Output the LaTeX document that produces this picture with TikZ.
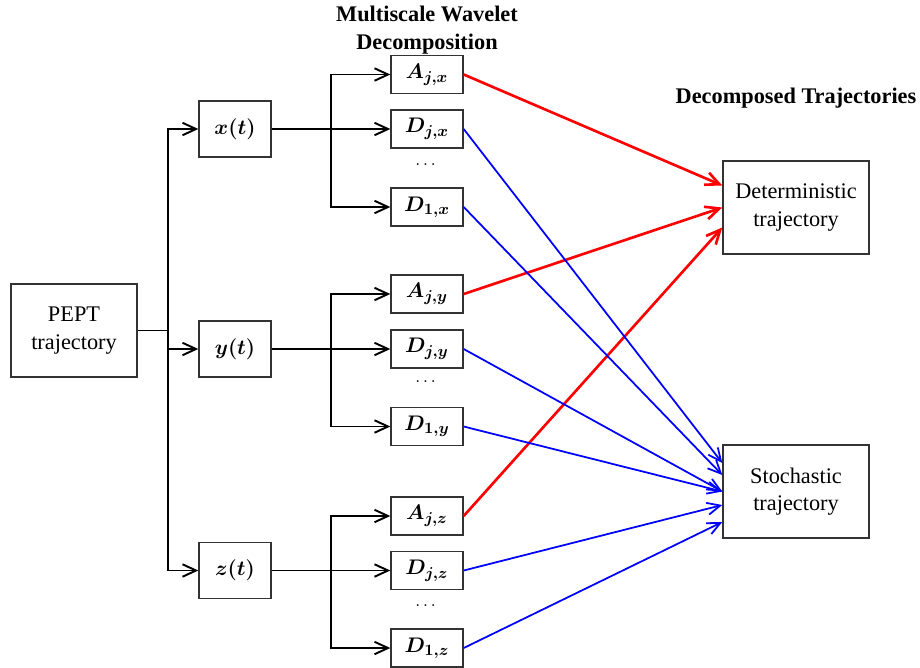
\documentclass[tikz,border=0pt]{standalone}
\usepackage{amsmath,bm}
\usepackage{fontspec}
\setmainfont{Liberation Serif}
\usepackage{tikz}
\usetikzlibrary{arrows.meta}

\tikzset{
  blk/.style={draw=black!80, line width=0.8pt, inner sep=0pt, align=center,
              font=\fontsize{12.7}{15.5}\selectfont},
  big/.style={blk, minimum width=2.92cm, minimum height=1.86cm},
  sig/.style={blk, minimum width=1.44cm, minimum height=1.12cm},
  cmp/.style={blk, minimum width=1.44cm, minimum height=0.76cm},
  ttl/.style={align=center, inner sep=0pt, font=\fontsize{12.7}{15.9}\selectfont\bfseries},
  lnk/.style={line width=1.1pt},
  arr/.style={lnk, -{Straight Barb[length=2.7mm,width=2.5mm]}},
  redarr/.style={draw=red, line width=1.5pt, -{Straight Barb[length=2.8mm,width=2.6mm]}},
  bluearr/.style={draw=blue, line width=1pt, -{Straight Barb[length=2.6mm,width=2.4mm]}}
}

\begin{document}
\begin{tikzpicture}[x=0.02cm, y=-0.02cm]
        \useasboundingbox (0,0) rectangle (920,667);

        \node[ttl] (ttlmw) at (427,30) {Multiscale Wavelet\\Decomposition};
        \node[ttl] (ttldt) at (796,98) {Decomposed Trajectories};

        \node[big, minimum width=2.52cm] (pept) at (74,330.5) {PEPT\\trajectory};

        \node[sig] (xt) at (235,129) {$\bm{x(t)}$};
        \node[sig] (yt) at (235,349) {$\bm{y(t)}$};
        \node[sig] (zt) at (235,570.5) {$\bm{z(t)}$};

        \node[cmp] (Ajx) at (427,74.5) {$\bm{A_{j,x}}$};
        \node[cmp] (Djx) at (427,129) {$\bm{D_{j,x}}$};
        \node (dotx) at (427,165) {$\dots$};
        \node[cmp] (D1x) at (427,207) {$\bm{D_{1,x}}$};

        \node[cmp] (Ajy) at (427,294) {$\bm{A_{j,y}}$};
        \node[cmp] (Djy) at (427,349) {$\bm{D_{j,y}}$};
        \node (doty) at (427,382) {$\dots$};
        \node[cmp] (D1y) at (427,426.5) {$\bm{D_{1,y}}$};

        \node[cmp] (Ajz) at (427,516) {$\bm{A_{j,z}}$};
        \node[cmp] (Djz) at (427,570.5) {$\bm{D_{j,z}}$};
        \node (dotz) at (427,606) {$\dots$};
        \node[cmp] (D1z) at (427,648) {$\bm{D_{1,z}}$};

        \node[big] (det) at (796,207.5) {Deterministic\\trajectory};
        \node[big] (sto) at (796,491.5) {Stochastic\\trajectory};

        \draw[lnk] (pept.east) -- ++(30,0) coordinate (bus);
        \draw[arr] (bus) |- (xt.west);
        \draw[arr] (bus) |- (yt.west);
        \draw[arr] (bus) |- (zt.west);

        \draw[lnk] (xt.east) -- ++(59,0) coordinate (xb);
        \draw[arr] (xb) |- (Ajx.west);
        \draw[arr] (xb) -- (Djx.west);
        \draw[arr] (xb) |- (D1x.west);

        \draw[lnk] (yt.east) -- ++(59,0) coordinate (yb);
        \draw[arr] (yb) |- (Ajy.west);
        \draw[arr] (yb) -- (Djy.west);
        \draw[arr] (yb) |- (D1y.west);

        \draw[lnk] (zt.east) -- ++(59,0) coordinate (zb);
        \draw[arr] (zb) |- (Ajz.west);
        \draw[arr] (zb) -- (Djz.west);
        \draw[arr] (zb) |- (D1z.west);

        \draw[redarr] (Ajx.east) -- ([yshift=0.44cm]det.west);
        \draw[redarr] (Ajy.east) -- (det.west);
        \draw[redarr] (Ajz.east) -- ([yshift=-0.4cm]det.west);

        \draw[bluearr] (Djx.east) -- ([yshift=0.57cm]sto.west);
        \draw[bluearr] (D1x.east) -- ([yshift=0.33cm]sto.west);
        \draw[bluearr] (Djy.east) -- (sto.west);
        \draw[bluearr] (D1y.east) -- (sto.west);
        \draw[bluearr] (Djz.east) -- ([yshift=-0.27cm]sto.west);
        \draw[bluearr] (D1z.east) -- ([yshift=-0.61cm]sto.west);
\end{tikzpicture}
\end{document}
